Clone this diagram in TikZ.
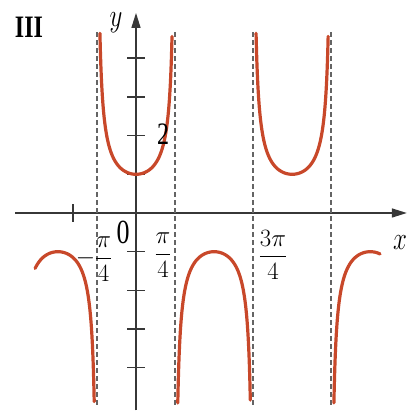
\documentclass[tikz,border=0pt]{standalone}
\usepackage{graphicx}
\usepackage{amsmath}
\usepackage{fontspec}
\setmainfont{Liberation Serif}
\usetikzlibrary{arrows.meta}
\definecolor{curvered}{RGB}{200,72,42}
\definecolor{axisgray}{RGB}{55,55,55}
\definecolor{dashgray}{RGB}{100,100,100}
\newcommand{\stretchtxt}[1]{\scalebox{1}[1.3]{#1}}
\begin{document}
\begin{tikzpicture}[x=1pt,y=1pt,
  axisline/.style={draw=axisgray, line width=1.4pt},
  axisarrow/.style={axisline, -{Triangle[length=15pt,width=9pt]}},
  asym/.style={draw=dashgray, line width=1.6pt, dash pattern=on 5pt off 3pt},
  graphline/.style={draw=curvered, line width=3.2pt, line cap=round, samples=150, smooth},
  lbl/.style={font=\fontsize{24}{28}\selectfont, inner sep=0pt, text=black},
  fraclbl/.style={font=\fontsize{26}{30}\selectfont, inner sep=0pt, text=black},
]
\useasboundingbox (0,0) rectangle (411,414);
\begin{scope}[shift={(136,201)}, x=49.7pt, y=38.7pt]
  \coordinate (xs) at (-2.43,0);
  \coordinate (xe) at (5.45,0);
  \coordinate (ys) at (0,-5.1);
  \coordinate (ye) at (0,5.17);
  \draw[axisarrow] (xs) -- (xe);
  \draw[axisarrow] (ys) -- (ye);
  \foreach \k in {-4,-3,-2,-1,1,2,3,4}
    \draw[axisline] (-0.18,\k) -- (0.18,\k);
  \draw[axisline] (-1.27,-0.23) -- (-1.27,0.23);
  \foreach \a in {-1,1,3,5}
    \draw[asym] ({\a*pi/4},-4.96) -- ({\a*pi/4},4.7);
  \draw[graphline, domain=-0.726:0.726] plot (\x,{pow(abs(1/cos(deg(2*\x))),0.72)});
  \draw[graphline, domain=2.4156:3.8676] plot (\x,{pow(abs(1/cos(deg(2*\x))),0.72)});
  \draw[graphline, domain=-2.03:-0.8404] plot (\x,{-pow(abs(1/cos(deg(2*\x))),0.72)});
  \draw[graphline, domain=0.8404:2.3012] plot (\x,{-pow(abs(1/cos(deg(2*\x))),0.72)});
  \draw[graphline, domain=3.982:4.91] plot (\x,{-pow(abs(1/cos(deg(2*\x))),0.72)});
\end{scope}
\node[lbl] (title) at (29,387) {\stretchtxt{\textbf{III}}};
\node[lbl] (ylab) at (116,391) {\stretchtxt{$y$}};
\node[lbl] (xlab) at (400,171) {\stretchtxt{$x$}};
\node[lbl, font=\fontsize{26}{30}\selectfont] (zero) at (123,182) {\stretchtxt{0}};
\node[lbl] (two) at (163,280) {\stretchtxt{2}};
\node[fraclbl] (fracA) at (94,155) {$-\dfrac{\pi}{4}$};
\node[fraclbl] (fracB) at (163,159) {$\dfrac{\pi}{4}$};
\node[fraclbl] (fracC) at (273,159) {$\dfrac{3\pi}{4}$};
\end{tikzpicture}
\end{document}
